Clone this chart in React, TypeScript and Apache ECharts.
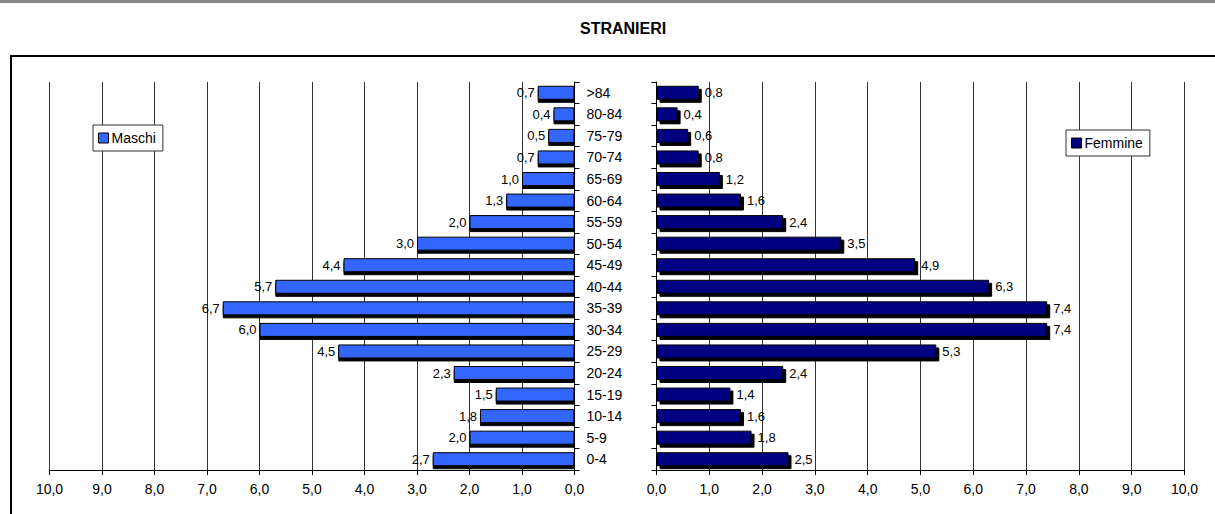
import React, { useEffect, useRef } from "react";
import * as echarts from "echarts";

const categories = ["0-4", "5-9", "10-14", "15-19", "20-24", "25-29", "30-34", "35-39", "40-44", "45-49", "50-54", "55-59", "60-64", "65-69", "70-74", "75-79", "80-84", ">84"];
const maschi = [2.7, 2.0, 1.8, 1.5, 2.3, 4.5, 6.0, 6.7, 5.7, 4.4, 3.0, 2.0, 1.3, 1.0, 0.7, 0.5, 0.4, 0.7];
const femmine = [2.5, 1.8, 1.6, 1.4, 2.4, 5.3, 7.4, 7.4, 6.3, 4.9, 3.5, 2.4, 1.6, 1.2, 0.8, 0.6, 0.4, 0.8];
const title = "STRANIERI";

const FONT = "'Liberation Sans', Arial, Helvetica, sans-serif";
const fmt = (v: number) => v.toFixed(1).replace(".", ",");

export default function App() {
  const ref = useRef<HTMLDivElement>(null);
  useEffect(() => {
    document.body.style.margin = "0";
    const chart = echarts.init(ref.current!, null, { renderer: "svg" });
    const xAxisBase = (gridIndex: number, inverse: boolean) => ({
      gridIndex,
      type: "value",
      min: 0,
      max: 10,
      interval: 1,
      inverse,
      axisLine: { show: true, lineStyle: { color: "#000", width: 1 } },
      axisTick: { show: true, length: 5, lineStyle: { color: "#000" } },
      axisLabel: { formatter: (v: number) => fmt(v), fontSize: 14, color: "#000", fontFamily: FONT, margin: 12 },
      splitLine: { show: true, lineStyle: { color: "#333", width: 1 } },
    });
    const barStyle = (color: string, offX: number) => ({
      color,
      borderColor: "#000",
      borderWidth: 1,
      shadowColor: "#000",
      shadowBlur: 0,
      shadowOffsetX: offX,
      shadowOffsetY: 3,
    });
    const legendBase = {
      orient: "vertical",
      padding: [6, 7, 6, 5],
      itemWidth: 10,
      itemHeight: 10,
      backgroundColor: "#fff",
      borderColor: "#333",
      borderWidth: 1,
      borderRadius: 0,
      icon: "rect",
      textStyle: { fontSize: 14, color: "#000", fontFamily: FONT, padding: [0, 0, 0, -2] },
    };
    const legendIcon = (color: string) => ({
      color,
      borderColor: "#000",
      borderWidth: 1,
      shadowBlur: 0,
      shadowOffsetX: 0,
      shadowOffsetY: 0,
      shadowColor: "transparent",
    });
    chart.setOption({
      animation: false,
      backgroundColor: "#fff",
      title: {
        text: title,
        left: 575,
        top: 15,
        textStyle: { fontSize: 16, fontWeight: "bold", color: "#000", fontFamily: FONT },
      },
      graphic: [
        { type: "line", shape: { x1: 0, y1: 1.5, x2: 1215, y2: 1.5 }, style: { stroke: "#888", lineWidth: 3 } },
        { type: "rect", shape: { x: 11, y: 56, width: 1400, height: 700 }, style: { fill: "none", stroke: "#000", lineWidth: 2 }, z: 0 },
      ],
      legend: [
        {
          ...legendBase,
          data: [{ name: "Maschi", itemStyle: legendIcon("#3366FF") }],
          left: 93,
          top: 125,
        },
        {
          ...legendBase,
          data: [{ name: "Femmine", itemStyle: legendIcon("#000080") }],
          left: 1066,
          top: 130,
        },
      ],
      grid: [
        { left: 49.5, width: 525, top: 82, bottom: 44, containLabel: false },
        { left: 656.5, width: 528, top: 82, bottom: 44, containLabel: false },
      ],
      xAxis: [xAxisBase(0, true), xAxisBase(1, false)],
      yAxis: [
        {
          gridIndex: 0,
          type: "category",
          data: categories,
          position: "right",
          axisLine: { show: true, lineStyle: { color: "#000" } },
          axisTick: { show: true, length: 5, lineStyle: { color: "#000" } },
          axisLabel: { fontSize: 14, color: "#000", fontFamily: FONT, margin: 12 },
          splitLine: { show: false },
        },
        {
          gridIndex: 1,
          type: "category",
          data: categories,
          position: "left",
          axisLine: { show: true, lineStyle: { color: "#000" } },
          axisTick: { show: true, length: 5, lineStyle: { color: "#000" } },
          axisLabel: { show: false },
          splitLine: { show: false },
        },
      ],
      series: [
        {
          name: "Maschi",
          type: "bar",
          xAxisIndex: 0,
          yAxisIndex: 0,
          data: maschi,
          barCategoryGap: "35%",
          itemStyle: barStyle("#3366FF", 0),
          label: { show: true, position: "left", distance: 3, formatter: (p: any) => fmt(p.value), fontSize: 13, color: "#000", fontFamily: FONT },
        },
        {
          name: "Femmine",
          type: "bar",
          xAxisIndex: 1,
          yAxisIndex: 1,
          data: femmine,
          barCategoryGap: "35%",
          itemStyle: barStyle("#000080", 3),
          label: { show: true, position: "right", distance: 6, formatter: (p: any) => fmt(p.value), fontSize: 13, color: "#000", fontFamily: FONT },
        },
      ],
    });
    return () => chart.dispose();
  }, []);
  return <div ref={ref} style={{ width: 1215, height: 514 }} />;
}
